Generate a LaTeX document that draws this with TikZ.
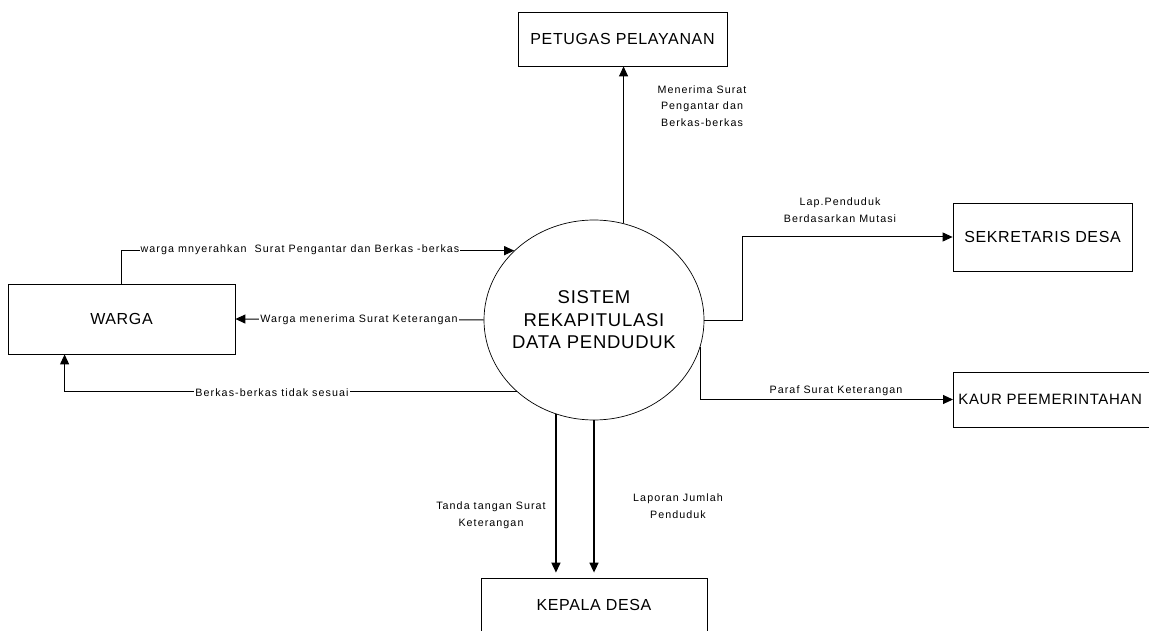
\documentclass[tikz,border=0pt]{standalone}
\usepackage{fontspec}
\setmainfont{Liberation Sans}
\newfontfamily\lblfont[LetterSpace=10]{Liberation Sans}
\newfontfamily\boxfont[LetterSpace=4]{Liberation Sans}
\usetikzlibrary{arrows.meta,shapes.geometric,calc}
\begin{document}
\begin{tikzpicture}[x=1pt,y=-1pt,
  entity/.style={draw, line width=0.8pt, inner sep=0pt, font=\boxfont\fontsize{16}{19}\selectfont},
  proc/.style={draw, ellipse, line width=0.7pt, inner sep=0pt, minimum width=220pt, minimum height=200pt},
  proctext/.style={align=center, inner sep=0pt, font=\boxfont\fontsize{18.5}{22.5}\selectfont},
  flow/.style={draw, line width=1pt, -{Triangle[length=10pt,width=9pt]}},
  thickflow/.style={flow, line width=1.6pt},
  lbl/.style={font=\lblfont\fontsize{10.7}{16.5}\selectfont, inner sep=1pt, align=center},
  lblw/.style={lbl, fill=white}]
\useasboundingbox (0,0) rectangle (1149,631);

\node[proc] (sys) at (594,320) {};
\node[proctext] (systext) at (sys.center) {SISTEM\\REKAPITULASI\\DATA PENDUDUK};
\node[entity, minimum width=209pt, minimum height=54pt] (petugas) at (622.5,39) {PETUGAS PELAYANAN};
\node[entity, minimum width=227pt, minimum height=70pt] (warga) at (121.5,319) {WARGA};
\node[entity, minimum width=179pt, minimum height=68pt] (sekre) at (1042.5,237) {SEKRETARIS DESA};
\node[entity, minimum width=200pt, minimum height=55pt, anchor=west] (kaur) at (953,399.5) {};
\node[entity, draw=none, anchor=west, font=\boxfont\fontsize{15}{18}\selectfont] (kaurtext) at (958,399.5) {KAUR PEEMERINTAHAN};
\node[entity, minimum width=226pt, minimum height=54pt] (kepala) at (594,605) {KEPALA DESA};

\coordinate (wup) at ($(warga.north west)+(114,0)$);
\draw[flow] (wup) |- (sys.139.5);
\node[lblw] (l1) at (300,250) {warga mnyerahkan\ \ Surat Pengantar dan Berkas -berkas};

\draw[flow] (sys.west) -- (warga.east);
\node[lblw] (l2) at (359,320) {Warga menerima Surat Keterangan};

\coordinate (wdn) at ($(warga.south west)+(57,0)$);
\draw[flow] (sys.223.5) -| (wdn);
\node[lblw] (l3) at (272,393) {Berkas-berkas tidak sesuai};

\draw[flow] (sys.73.9) -- (sys.73.9 |- petugas.south);
\node[lbl] (l4) at (702,106) {Menerima Surat\\Pengantar dan\\Berkas-berkas};

\draw[flow] (sys.east) -- ++(38,0) |- (sekre.west);
\node[lbl] (l5) at (840,210) {Lap.Penduduk\\Berdasarkan Mutasi};

\draw[flow] (sys.-14.3) |- (kaur.west);
\node[lbl, anchor=south] (l6) at (836,397) {Paraf Surat Keterangan};

\coordinate (k1) at ($(sys.-112.65 |- kepala.north)+(0,-5)$);
\coordinate (k2) at ($(sys.south |- kepala.north)+(0,-5)$);
\draw[thickflow] (sys.-112.65) -- (k1);
\draw[thickflow] (sys.south) -- (k2);
\node[lbl] (l7) at (491,515) {Tanda tangan Surat\\Keterangan};
\node[lbl] (l8) at (678,506) {Laporan Jumlah\\Penduduk};
\end{tikzpicture}
\end{document}
